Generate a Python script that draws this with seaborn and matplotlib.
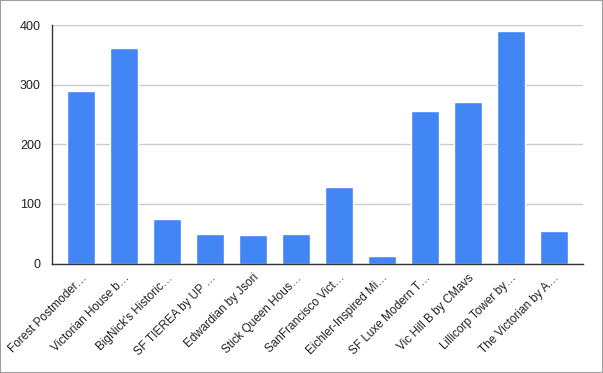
import matplotlib
matplotlib.use("Agg")
import matplotlib.pyplot as plt
import matplotlib.transforms as mtransforms
import seaborn as sns
import pandas as pd
from matplotlib.ticker import MultipleLocator
from matplotlib.patches import Rectangle

# chart data
listings = [
    "Forest Postmoder\u2026", "Victorian House b\u2026", "BigNick's Historic\u2026",
    "SF TIEREA by UP \u2026", "Edwardian by Jsori", "Stick Queen Hous\u2026",
    "SanFrancisco Vict\u2026", "Eichler-Inspired Mi\u2026", "SF Luxe Modern T\u2026",
    "Vic Hill B by CMavs", "Lillicorp Tower by\u2026", "The Victorian by A\u2026",
]
values = [290, 361, 75, 50, 48, 50, 128, 13, 256, 271, 390, 55]
y_ticks = [0, 100, 200, 300, 400]

df = pd.DataFrame({"listing": listings, "value": values})

sns.set_theme(style="white")
plt.rcParams["font.family"] = ["Liberation Sans", "DejaVu Sans"]

fig = plt.figure(figsize=(6.03, 3.73), dpi=100)
ax = fig.add_axes([52 / 603, 1 - 263.5 / 373, 531 / 603, 238.5 / 373])

sns.barplot(data=df, x="listing", y="value", color="#4285f4", width=0.65,
            saturation=1, ax=ax, zorder=3)

ax.set_ylim(0, 400)
ax.set_xlim(-0.68, len(listings) - 0.32)
ax.set_yticks(y_ticks)
ax.yaxis.set_minor_locator(MultipleLocator(100 / 3))
ax.grid(axis="y", color="#cccccc", linewidth=1, zorder=0)
ax.set_axisbelow(True)

for s in ["top", "right"]:
    ax.spines[s].set_visible(False)
ax.spines["left"].set_color("#333333")
ax.spines["bottom"].set_color("#333333")
ax.spines["left"].set_linewidth(1)
ax.spines["bottom"].set_linewidth(1)
ax.spines["bottom"].set_zorder(4)

ax.tick_params(axis="y", which="major", length=0, labelsize=9, labelcolor="#222222", pad=8)
ax.tick_params(axis="y", which="minor", length=6, width=1, direction="inout", color="#333333")
ax.tick_params(axis="x", length=0, labelsize=8.5, labelcolor="#222222", pad=9)
shift = mtransforms.ScaledTranslation(4 / 100, 0, fig.dpi_scale_trans)
for lbl in ax.get_xticklabels():
    lbl.set_rotation(45)
    lbl.set_ha("right")
    lbl.set_va("center")
    lbl.set_rotation_mode("anchor")
    lbl.set_transform(lbl.get_transform() + shift)

ax.set_xlabel("")
ax.set_ylabel("")

fig.patches.append(Rectangle((0, 0), 1, 1, transform=fig.transFigure, fill=False,
                             edgecolor="#9e9e9e", linewidth=1.5))

fig.savefig("out.png", dpi=100)
